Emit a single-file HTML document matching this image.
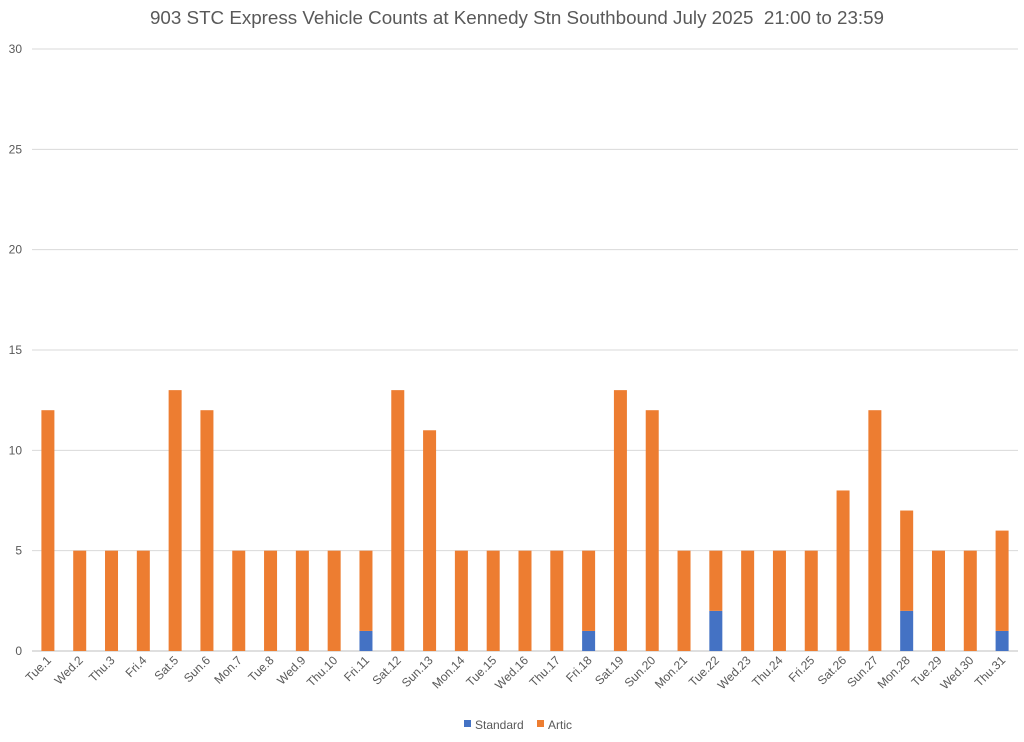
<!DOCTYPE html>
<html><head><meta charset="utf-8"><style>
html,body{margin:0;padding:0;background:#fff;}
svg text{font-family:"Liberation Sans",sans-serif;fill:#595959;}
</style></head><body>
<svg id="chart" width="1024" height="737">
<text x="517" y="24" text-anchor="middle" font-size="18.8">903 STC Express Vehicle Counts at Kennedy Stn Southbound July 2025 &#160;21:00 to 23:59</text>
<g id="grid"></g><g id="bars"></g><g id="xlabels"></g>
<g>
<rect x="464" y="720" width="7" height="7" fill="#4472C4"/>
<text x="475" y="729" font-size="12">Standard</text>
<rect x="537" y="720" width="7" height="7" fill="#ED7D31"/>
<text x="548" y="729" font-size="12">Artic</text>
</g>
</svg>
<script>
const categories=["Tue.1","Wed.2","Thu.3","Fri.4","Sat.5","Sun.6","Mon.7","Tue.8","Wed.9","Thu.10","Fri.11","Sat.12","Sun.13","Mon.14","Tue.15","Wed.16","Thu.17","Fri.18","Sat.19","Sun.20","Mon.21","Tue.22","Wed.23","Thu.24","Fri.25","Sat.26","Sun.27","Mon.28","Tue.29","Wed.30","Thu.31"];
const standard=[0,0,0,0,0,0,0,0,0,0,1,0,0,0,0,0,0,1,0,0,0,2,0,0,0,0,0,2,0,0,1];
const artic=[12,5,5,5,13,12,5,5,5,5,4,13,11,5,5,5,5,4,13,12,5,3,5,5,5,8,12,5,5,5,5];
const yTicks=[0,5,10,15,20,25,30];
const NS="http://www.w3.org/2000/svg";
const left=32,right=1018,y0=651,yTop=49,yMax=30;
const step=(right-left)/categories.length,bw=13;
const y=v=>y0-(v/yMax)*(y0-yTop);
const xc=i=>left+step*(i+0.5);
function mk(t,a,p){const e=document.createElementNS(NS,t);for(const k in a)e.setAttribute(k,a[k]);p.appendChild(e);return e;}
const grid=document.getElementById('grid'),bars=document.getElementById('bars'),xl=document.getElementById('xlabels');
yTicks.forEach(v=>{
 const l=mk('line',{x1:left,x2:right,y1:y(v),y2:y(v),stroke:v===0?'#BFBFBF':'#D9D9D9','stroke-width':1},grid);
 
 
 const t=mk('text',{x:22,y:y(v)+4,'text-anchor':'end','font-size':12},grid);
 t.textContent=v;
 
 
});
categories.forEach((c,i)=>{
 const x=xc(i)-bw/2;
 if(standard[i]>0){
  const r=mk('rect',{x:x,y:y(standard[i]),width:bw,height:y0-y(standard[i]),fill:'#4472C4'},bars);
  
  
 }
 const r2=mk('rect',{x:x,y:y(standard[i]+artic[i]),width:bw,height:y(standard[i])-y(standard[i]+artic[i]),fill:'#ED7D31'},bars);
 
 
 const t=mk('text',{x:xc(i)+4,y:661,'text-anchor':'end','font-size':12,transform:`rotate(-45 ${xc(i)+4} 661)`},xl);
 t.textContent=c;
 
 
});
</script>
</body></html>
